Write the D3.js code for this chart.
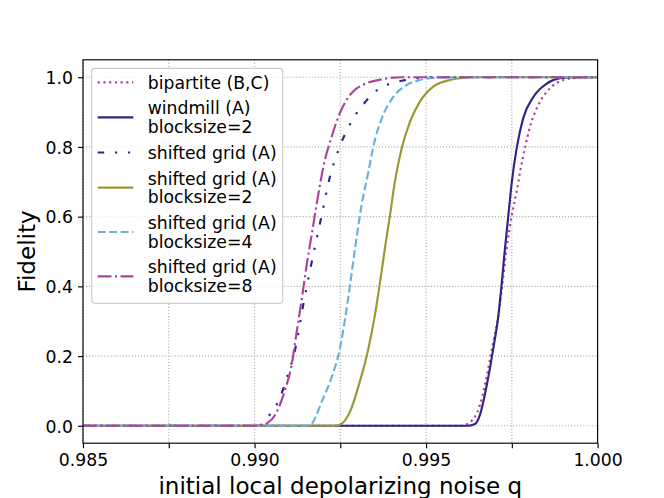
<!DOCTYPE html>
<html lang="en">

<head>
    <meta charset="UTF-8">
    <title>Fidelity vs noise</title>
    <script src="https://d3js.org/d3.v7.min.js"></script>
    <style>
        body {
            margin: 0;
            background: white;
        }

        #chart text {
            font-family: "DejaVu Sans", sans-serif;
        }
    </style>
</head>

<body>
    <svg id="chart" width="664" height="498"></svg>
    <script>
        // values (q, fidelity)
        const qBipartite = [0.985, 0.99600, 0.99628, 0.99657, 0.99672, 0.99696, 0.99711, 0.99721, 0.99735, 0.99750, 0.99764, 0.99774, 0.99788, 0.99803, 0.99827, 0.99861, 0.99900, 0.99949, 1.0];
        const fBipartite = [0, 0, 0.01, 0.06, 0.12, 0.241, 0.318, 0.394, 0.509, 0.605, 0.672, 0.729, 0.796, 0.858, 0.92, 0.968, 0.992, 0.999, 1];

        const qWindmill = [0.985, 0.99620, 0.99643, 0.99657, 0.99677, 0.99696, 0.99711, 0.99721, 0.99730, 0.99740, 0.99750, 0.99764, 0.99783, 0.99813, 0.99852, 0.99890, 0.9994, 1.0];
        const fWindmill = [0, 0, 0.005, 0.031, 0.117, 0.222, 0.318, 0.413, 0.509, 0.605, 0.70, 0.796, 0.882, 0.944, 0.982, 0.997, 1, 1];

        const qGrid = [0.985, 0.99015, 0.99030, 0.99060, 0.99079, 0.99094, 0.99118, 0.99142, 0.99167, 0.99196, 0.99220, 0.99244, 0.99273, 0.99293, 0.99317, 0.99346, 0.99385, 0.99429, 0.99473, 0.9952, 1.0];
        const fGrid = [0, 0, 0.017, 0.052, 0.093, 0.137, 0.217, 0.347, 0.471, 0.605, 0.715, 0.79, 0.855, 0.89, 0.922, 0.954, 0.978, 0.99, 0.997, 1, 1];

        const qGrid2 = [0.985, 0.99235, 0.99249, 0.99278, 0.99307, 0.99332, 0.99351, 0.99366, 0.99380, 0.99395, 0.99409, 0.99429, 0.99453, 0.99482, 0.99521, 0.99570, 0.99599, 0.9964, 1.0];
        const fGrid2 = [0, 0, 0.003, 0.04, 0.127, 0.222, 0.318, 0.413, 0.509, 0.605, 0.70, 0.796, 0.872, 0.93, 0.973, 0.992, 0.997, 1, 1];

        const qGrid4 = [0.985, 0.99150, 0.99168, 0.99180, 0.99196, 0.99225, 0.99249, 0.99264, 0.99273, 0.99293, 0.99312, 0.99332, 0.99346, 0.99371, 0.99405, 0.99444, 0.99482, 0.99531, 0.9960, 1.0];
        const fGrid4 = [0, 0, 0.007, 0.03, 0.069, 0.14, 0.222, 0.308, 0.366, 0.509, 0.633, 0.729, 0.8, 0.882, 0.944, 0.978, 0.992, 0.9986, 1, 1];

        const qGrid8 = [0.985, 0.9900, 0.99022, 0.99036, 0.99060, 0.99089, 0.99108, 0.99123, 0.99138, 0.99152, 0.99168, 0.99184, 0.99201, 0.99225, 0.99250, 0.99288, 0.99316, 0.99366, 0.9943, 1.0];
        const fGrid8 = [0, 0, 0.001, 0.007, 0.031, 0.103, 0.174, 0.27, 0.366, 0.461, 0.557, 0.653, 0.745, 0.83, 0.9, 0.96, 0.978, 0.993, 1, 1];

        const labels = [
            ['bipartite (B,C)'],
            ['windmill (A)', 'blocksize=2'],
            ['shifted grid (A)'],
            ['shifted grid (A)', 'blocksize=2'],
            ['shifted grid (A)', 'blocksize=4'],
            ['shifted grid (A)', 'blocksize=8']
        ];
        const colors = ['#aa4499', '#332288', '#332288', '#999933', '#6ab2d8', '#aa4499'];
        const dashes = ['2.16,3.56', null, '6.5,10.8,2.2,10.8,2.2,10.8', null, '8,3.46', '13.8,3.46,2.16,3.46'];

        const xTicks = [0.985, 0.9875, 0.990, 0.9925, 0.995, 0.9975, 1.000];
        const xTickLabels = ['0.985', '', '0.990', '', '0.995', '', '1.000'];
        const yTicks = [0, 0.2, 0.4, 0.6, 0.8, 1.0];

        const series = [
            [qBipartite, fBipartite],
            [qWindmill, fWindmill],
            [qGrid, fGrid],
            [qGrid2, fGrid2],
            [qGrid4, fGrid4],
            [qGrid8, fGrid8]
        ];

        const mLeft = 83, mRight = 597.6, mTop = 59.8, mBottom = 443.2;

        const x = d3.scaleLinear().domain([0.985, 1.0]).range([mLeft, mRight]);
        const y = d3.scaleLinear().domain([-0.05, 1.05]).range([mBottom, mTop]);

        const svg = d3.select('#chart');

        svg.append('defs').append('clipPath').attr('id', 'clip')
            .append('rect')
            .attr('x', mLeft).attr('y', mTop)
            .attr('width', mRight - mLeft).attr('height', mBottom - mTop);

        // grid
        svg.append('g').selectAll('line')
            .data(xTicks)
            .enter()
            .append('line')
            .attr('x1', d => x(d)).attr('x2', d => x(d))
            .attr('y1', mTop).attr('y2', mBottom)
            .attr('stroke', '#b0b0b0')
            .attr('stroke-width', 1.15)
            .attr('stroke-dasharray', '1.15,1.9');

        svg.append('g').selectAll('line')
            .data(yTicks)
            .enter()
            .append('line')
            .attr('x1', mLeft).attr('x2', mRight)
            .attr('y1', d => y(d)).attr('y2', d => y(d))
            .attr('stroke', '#b0b0b0')
            .attr('stroke-width', 1.15)
            .attr('stroke-dasharray', '1.15,1.9');

        // curves
        const line = d3.line()
            .x(d => x(d[0]))
            .y(d => y(d[1]))
            .curve(d3.curveMonotoneX);

        const plot = svg.append('g').attr('clip-path', 'url(#clip)');
        series.forEach((s, i) => {
            const pts = s[0].map((q, j) => [q, s[1][j]]);
            plot.append('path')
                .attr('d', line(pts))
                .attr('fill', 'none')
                .attr('stroke', colors[i])
                .attr('stroke-width', 2.16)
                .attr('stroke-dasharray', dashes[i]);
        });

        // axes
        const xAxis = d3.axisBottom(x)
            .tickValues(xTicks)
            .tickFormat((d, i) => xTickLabels[i])
            .tickSize(5)
            .tickPadding(5);
        const gx = svg.append('g')
            .attr('transform', `translate(0,${mBottom})`)
            .call(xAxis);

        const yAxis = d3.axisLeft(y)
            .tickValues(yTicks)
            .tickFormat(d3.format('.1f'))
            .tickSize(5)
            .tickPadding(5);
        const gy = svg.append('g')
            .attr('transform', `translate(${mLeft},0)`)
            .call(yAxis);

        [gx, gy].forEach(g => {
            g.select('.domain').remove();
            g.selectAll('line').attr('stroke', 'black').attr('stroke-width', 1.15);
            g.selectAll('text')
                .attr('font-family', '"DejaVu Sans", sans-serif')
                .attr('font-size', 17.28)
                .attr('fill', 'black');
        });
        gx.selectAll('text').attr('dy', null).attr('y', 23.1);
        gy.selectAll('text').attr('dy', '0.36em');

        svg.append('rect')
            .attr('x', mLeft).attr('y', mTop)
            .attr('width', mRight - mLeft).attr('height', mBottom - mTop)
            .attr('fill', 'none')
            .attr('stroke', 'black')
            .attr('stroke-width', 1.15);

        // labels
        svg.append('text')
            .attr('x', (mLeft + mRight) / 2)
            .attr('y', 493.7)
            .attr('text-anchor', 'middle')
            .attr('font-size', 23.04)
            .text('initial local depolarizing noise q');

        svg.append('text')
            .attr('transform', `translate(34.5,${(mTop + mBottom) / 2}) rotate(-90)`)
            .attr('text-anchor', 'middle')
            .attr('font-size', 23.04)
            .text('Fidelity');

        // legend
        const legend = svg.append('g');
        legend.append('rect')
            .attr('x', 91.7).attr('y', 68.3)
            .attr('width', 191).attr('height', 235)
            .attr('rx', 3)
            .attr('fill', 'white')
            .attr('fill-opacity', 0.8)
            .attr('stroke', '#cccccc')
            .attr('stroke-width', 1.15);

        let cy = 82.3;
        labels.forEach((lines, i) => {
            const ys = lines.map((t, k) => cy + k * 18.6);
            const mid = d3.mean(ys);
            legend.append('line')
                .attr('x1', 97.7).attr('x2', 133.3)
                .attr('y1', mid).attr('y2', mid)
                .attr('stroke', colors[i])
                .attr('stroke-width', 2.16)
                .attr('stroke-dasharray', dashes[i]);
            lines.forEach((t, k) => {
                legend.append('text')
                    .attr('x', 147.7)
                    .attr('y', ys[k])
                    .attr('dy', '0.36em')
                    .attr('font-size', 17.28)
                    .text(t);
            });
            cy = ys[ys.length - 1] + 25.8;
        });
    </script>
</body>

</html>
